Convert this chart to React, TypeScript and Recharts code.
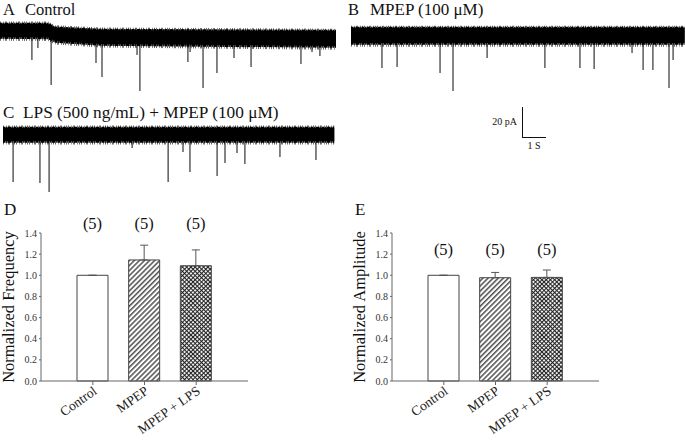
import React from 'react';
import { ComposedChart, Area, Line, XAxis, YAxis, BarChart, Bar, Cell, ErrorBar, LabelList, Label } from 'recharts';

// Recordings: t in seconds, current in pA (relative to each trace's holding level)
const controlBand = [
  { t: 0, lo: -4.7, hi: 4 },
  { t: 2.0, lo: -5, hi: 4 },
  { t: 2.3, lo: -7.3, hi: 1.5 },
  { t: 4.2, lo: -9.3, hi: 0 },
  { t: 14, lo: -10.7, hi: -0.7 },
];
const controlEvents = [
  { t: 1.33, peak: -20 }, { t: 1.58, peak: -12 }, { t: 2.13, peak: -36.7 },
  { t: 4.0, peak: -22 }, { t: 4.25, peak: -31.3 }, { t: 5.71, peak: -16.7 },
  { t: 5.83, peak: -40.7 }, { t: 7.83, peak: -21.3 }, { t: 7.92, peak: -14.7 },
  { t: 8.46, peak: -38.7 }, { t: 9.04, peak: -28.7 }, { t: 9.75, peak: -18.7 },
  { t: 10.46, peak: -24.7 }, { t: 12.54, peak: -22.7 }, { t: 13.0, peak: -14.7 },
  { t: 13.33, peak: -17.3 },
];

const mpepBand = [
  { t: 0, lo: -4.7, hi: 5.3 },
  { t: 13.9, lo: -4.7, hi: 5.3 },
];
const mpepEvents = [
  { t: 1.29, peak: -21.3 }, { t: 1.92, peak: -20.7 }, { t: 3.71, peak: -24.7 },
  { t: 4.25, peak: -36.7 }, { t: 5.67, peak: -14.7 }, { t: 8.08, peak: -21.3 },
  { t: 9.54, peak: -21.3 }, { t: 10.13, peak: -22 }, { t: 11.71, peak: -11.3 },
  { t: 12.17, peak: -22.7 }, { t: 12.58, peak: -22.7 }, { t: 13.25, peak: -34.7 },
  { t: 13.42, peak: -16 },
];

const lpsBand = [
  { t: 0, lo: -4, hi: 4.7 },
  { t: 13.8, lo: -4, hi: 4.7 },
];
const lpsEvents = [
  { t: 0.42, peak: -31.3 }, { t: 1.54, peak: -32 }, { t: 1.92, peak: -38 },
  { t: 5.38, peak: -8.7 }, { t: 6.88, peak: -31.3 }, { t: 7.5, peak: -11.3 },
  { t: 7.79, peak: -24.7 }, { t: 8.92, peak: -27.3 }, { t: 9.25, peak: -18.7 },
  { t: 9.75, peak: -12 }, { t: 10.08, peak: -19.3 }, { t: 11.54, peak: -14.7 },
  { t: 13.04, peak: -16.7 },
];

// Summary bars
const groups = ['Control', 'MPEP', 'MPEP + LPS'];
const nCells = [5, 5, 5];
const freqMean = [1.0, 1.145, 1.09];
const freqSem = [0, 0.14, 0.15];
const ampMean = [1.0, 0.977, 0.98];
const ampSem = [0, 0.05, 0.07];
const yTicks = [0, 0.2, 0.4, 0.6, 0.8, 1.0, 1.2, 1.4];

const SERIF = '"Liberation Serif", "DejaVu Serif", serif';

type Knot = { t: number; lo: number; hi: number };
type Ev = { t: number; peak: number };

const Trace = ({ id, band, events, from, left, top, height, yDomain }: {
  id: string; band: Knot[]; events: Ev[]; from: number; left: number; top: number; height: number; yDomain: [number, number];
}) => {
  const spikes = events.flatMap(e => [
    { t: e.t, i: from },
    { t: e.t, i: e.peak },
    { t: e.t, i: null },
  ]);
  const axes = (
    <>
      <XAxis dataKey="t" type="number" domain={[0, 14]} hide />
      <YAxis type="number" domain={yDomain} hide />
    </>
  );
  const box: React.CSSProperties = { position: 'absolute', left, top };
  return (
    <>
      <div style={box}>
        <ComposedChart width={336} height={height} data={spikes} margin={{ top: 0, right: 0, left: 0, bottom: 0 }}>
          {axes}
          <Line dataKey="i" type="linear" stroke="#222" strokeWidth={1.1} dot={false} isAnimationActive={false} />
        </ComposedChart>
      </div>
      <div style={box}>
        <ComposedChart width={336} height={height} data={band} margin={{ top: 0, right: 0, left: 0, bottom: 0 }}>
          <defs>
            {/* hairy edge texture for the noise envelope */}
            <pattern id={`${id}-sparse`} width="13" height="40" patternUnits="userSpaceOnUse">
              <rect x="0" y="0" width="1" height="40" fill="#222" />
              <rect x="3" y="0" width="1" height="40" fill="#777" />
              <rect x="5" y="0" width="2" height="40" fill="#333" />
              <rect x="9" y="0" width="1" height="40" fill="#555" />
              <rect x="11" y="0" width="1" height="40" fill="#222" />
            </pattern>
            <pattern id={`${id}-dense`} width="11" height="40" patternUnits="userSpaceOnUse">
              <rect x="0" y="0" width="11" height="40" fill="#555" />
              <rect x="0" y="0" width="2" height="40" fill="#000" />
              <rect x="3" y="0" width="1" height="40" fill="#111" />
              <rect x="5" y="0" width="3" height="40" fill="#000" />
              <rect x="9" y="0" width="1" height="40" fill="#222" />
            </pattern>
          </defs>
          {axes}
          <Area dataKey={(d: Knot) => [d.lo - 2.4, d.hi + 1.6]} type="linear" fill={`url(#${id}-sparse)`} fillOpacity={0.7} stroke="none" isAnimationActive={false} />
          <Area dataKey={(d: Knot) => [d.lo - 1.2, d.hi + 0.8]} type="linear" fill={`url(#${id}-dense)`} fillOpacity={1} stroke="none" isAnimationActive={false} />
          <Area dataKey={(d: Knot) => [d.lo, d.hi]} type="linear" fill="#000" fillOpacity={1} stroke="none" isAnimationActive={false} />
        </ComposedChart>
      </div>
    </>
  );
};

const AngledTick = ({ x, y, payload }: any) => (
  <g transform={`translate(${x + 5},${y + 6}) rotate(-35)`}>
    <text x={0} y={0} textAnchor="end" fontFamily={SERIF} fontSize={13.5} fill="#222">{payload.value}</text>
  </g>
);

const BarPanel = ({ id, left, means, sems, title, nDrop }: {
  id: string; left: number; means: number[]; sems: number[]; title: string; nDrop: number;
}) => {
  const data = groups.map((g, k) => ({ group: g, mean: means[k], sem: [0, sems[k]], n: `(${nCells[k]})` }));
  const fills = ['#fff', `url(#${id}-hatch)`, `url(#${id}-cross)`];
  const renderN = (p: any) => {
    const vb = p.viewBox || p;
    const cx = vb.x + vb.width / 2;
    const bottom = vb.y + vb.height;
    return (
      <text x={cx} y={bottom - nDrop} textAnchor="middle" fontFamily={SERIF} fontSize={16.5} fill="#111">{p.value}</text>
    );
  };
  return (
    <div style={{ position: 'absolute', left, top: 190 }}>
      <BarChart width={260} height={251} data={data} margin={{ top: 43, right: 12, left: 0, bottom: 5 }}>
        <defs>
          <pattern id={`${id}-hatch`} width="3.6" height="3.6" patternUnits="userSpaceOnUse" patternTransform="rotate(45)">
            <rect width="3.6" height="3.6" fill="#fff" />
            <line x1="0.8" y1="0" x2="0.8" y2="3.6" stroke="#333" strokeWidth="1.3" />
          </pattern>
          <pattern id={`${id}-cross`} width="3" height="3" patternUnits="userSpaceOnUse" patternTransform="rotate(45)">
            <rect width="3" height="3" fill="#eee" />
            <line x1="0.5" y1="0" x2="0.5" y2="3" stroke="#222" strokeWidth="1" />
            <line x1="0" y1="0.5" x2="3" y2="0.5" stroke="#222" strokeWidth="1" />
          </pattern>
        </defs>
        <XAxis
          dataKey="group"
          padding={{ left: 26, right: 26 }}
          height={55}
          tickSize={4}
          axisLine={{ stroke: '#666' }}
          tickLine={{ stroke: '#666' }}
          tick={<AngledTick />}
          interval={0}
        />
        <YAxis
          domain={[0, 1.4]}
          ticks={yTicks}
          width={41}
          tickSize={2}
          tickMargin={2}
          tickFormatter={(v: number) => v.toFixed(1)}
          axisLine={{ stroke: '#666' }}
          tickLine={{ stroke: '#666' }}
          tick={{ fontFamily: SERIF, fontSize: 10, fill: '#333' }}
        >
          <Label
            content={(p: any) => {
              const vb = p.viewBox;
              const x = vb.x + 14;
              const y = vb.y + vb.height / 2;
              return (
                <text x={x} y={y} transform={`rotate(-90, ${x}, ${y})`} textAnchor="middle" fontFamily={SERIF} fontSize={16.5} fill="#111">{title}</text>
              );
            }}
          />
        </YAxis>
        <Bar dataKey="mean" barSize={31} stroke="#444" strokeWidth={1} isAnimationActive={false}>
          {data.map((d, k) => <Cell key={d.group} fill={fills[k]} />)}
          <ErrorBar dataKey="sem" direction="y" width={4} stroke="#555" strokeWidth={1} />
          <LabelList dataKey="n" content={renderN} />
        </Bar>
      </BarChart>
    </div>
  );
};

export default function App() {
  const txt = { fontFamily: SERIF, fill: '#111' };
  return (
    <div style={{ position: 'absolute', left: 0, top: 0, width: 685, height: 441, background: '#fff', overflow: 'hidden' }}>
      <svg width={685} height={441} style={{ position: 'absolute', left: 0, top: 0 }}>
        <text x={3} y={15} fontSize={16.5} {...txt}>A</text>
        <text x={25} y={15} fontSize={16.5} {...txt}>Control</text>
        <text x={348} y={15} fontSize={16.5} {...txt}>B</text>
        <text x={370} y={15} fontSize={17} {...txt}>MPEP (100 μM)</text>
        <text x={3} y={118} fontSize={17} {...txt}>C</text>
        <text x={23} y={118} fontSize={17.3} {...txt}>LPS (500 ng/mL) + MPEP (100 μM)</text>
        <text x={4} y={215} fontSize={17} {...txt}>D</text>
        <text x={355} y={215} fontSize={17} {...txt}>E</text>
        {/* scale bar: 20 pA / 1 s */}
        <line x1={522.5} y1={107} x2={522.5} y2={137.5} stroke="#111" strokeWidth={1} />
        <line x1={522} y1={137.5} x2={546} y2={137.5} stroke="#111" strokeWidth={1} />
        <text x={517} y={125} fontSize={10} textAnchor="end" {...txt}>20 pA</text>
        <text x={534} y={149} fontSize={10} textAnchor="middle" {...txt}>1 S</text>
      </svg>
      <Trace id="ctl" band={controlBand} events={controlEvents} from={-4} left={0} top={15} height={81} yDomain={[-44, 10]} />
      <Trace id="mpep" band={mpepBand} events={mpepEvents} from={0} left={351} top={15} height={81} yDomain={[-40, 14]} />
      <Trace id="lps" band={lpsBand} events={lpsEvents} from={0} left={3} top={111} height={87} yDomain={[-42, 16]} />
      <BarPanel id="freq" left={0} means={freqMean} sems={freqSem} title="Normalized Frequency" nDrop={152} />
      <BarPanel id="amp" left={351} means={ampMean} sems={ampSem} title="Normalized Amplitude" nDrop={126} />
    </div>
  );
}
